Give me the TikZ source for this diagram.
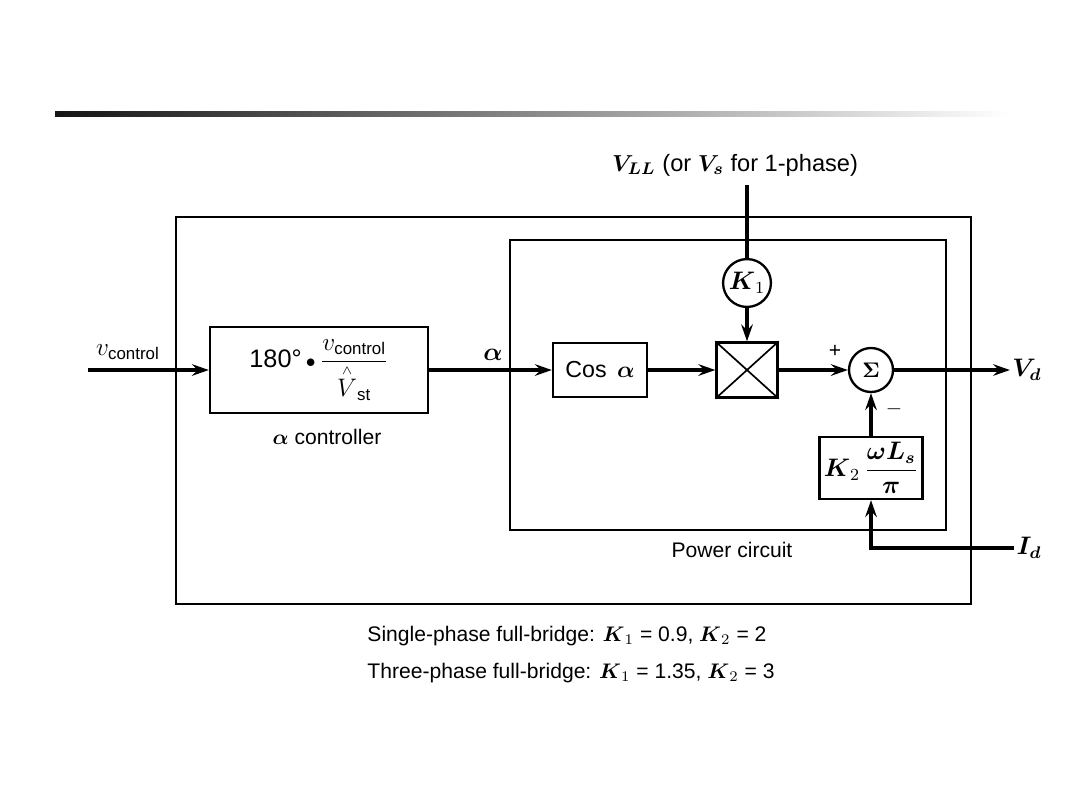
\documentclass[tikz,border=0pt]{standalone}
\usepackage{amsmath}
\usepackage{fontspec}
\setmainfont{Liberation Sans}
\usetikzlibrary{arrows.meta}
\tikzset{
  arr/.style={-{Stealth[length=8pt, width=5.5pt, inset=2.8pt]}, line width=1.6pt},
  sig/.style={line width=1.6pt},
  blk/.style={draw, line width=1.1pt, inner sep=2pt, align=center},
  rnd/.style={draw, circle, line width=1.1pt, inner sep=1pt, minimum size=0.733cm},
  frame/.style={draw, line width=1pt},
}

\begin{document}
\begin{tikzpicture}[x=0.016667cm, y=-0.016667cm]
\useasboundingbox (0,0) rectangle (1080,810);
\shade[left color=black!92, right color=white] (55,111) rectangle (1010,116);

% frames
\draw[frame] (176,217) rectangle (971,604);
\draw[frame] (510,240) rectangle (946,530);

% blocks
\node[blk, minimum width=3.633cm, minimum height=1.433cm, font=\large] (ctrl) at (319,370)
  {180°\,{\small$\bullet$}\,$\dfrac{v_{\text{control}}}{\overset{\scriptscriptstyle\wedge}{V}_{\text{st}}}$};
\node[blk, minimum width=1.567cm, minimum height=0.9cm, font=\fontsize{11}{13}\selectfont] (cosb) at (600,370) {Cos\, $\boldsymbol{\alpha}$};
\node[blk, minimum width=1.017cm, minimum height=0.917cm] (mult) at (747,370) {};
\node[rnd, font=\large] (kone)  at (747,283) {$\boldsymbol{K}_1$};
\node[rnd] (sigma) at (871,370) {$\boldsymbol{\Sigma}$};
\node[blk, minimum width=1.7cm, minimum height=1.033cm, font=\large] (ktwo) at (871,468)
  {$\boldsymbol{K}_2\,\dfrac{\boldsymbol{\omega L_s}}{\boldsymbol{\pi}}$};
\draw[line width=0.8pt] (mult.north west) -- (mult.south east);
\draw[line width=0.8pt] (mult.south west) -- (mult.north east);

% labels
\node[font=\large] (vcl)  at (128,352) {$v_{\text{control}}$};
\node[font=\large] (alab) at (493,355) {$\boldsymbol{\alpha}$};
\node[font=\fontsize{11.2}{13}\selectfont] (vll) at (735,165) {$\boldsymbol{V_{LL}}$ (or $\boldsymbol{V_s}$ for 1-phase)};
\node (plus) at (835,351) {+};
\node (minus) at (894,409) {$-$};
\node[inner sep=1pt, font=\large] (vd)  at (1027,370) {$\boldsymbol{V_d}$};
\node[inner sep=1pt, font=\large] (idl) at (1029,548) {$\boldsymbol{I_d}$};
\node (actl) at (327,437) {$\boldsymbol{\alpha}$ controller};
\node (pwr)  at (732,550) {Power circuit};
\node[anchor=west] (note1) at (360,636) {Single-phase full-bridge: $\boldsymbol{K}_1$ = 0.9, $\boldsymbol{K}_2$ = 2};
\node[anchor=west] (note2) at (360,673) {Three-phase full-bridge: $\boldsymbol{K}_1$ = 1.35, $\boldsymbol{K}_2$ = 3};

% signals
\coordinate (vin)  at (88,370);
\coordinate (vtop) at (747,185);
\draw[arr] (vin) -- (ctrl);
\draw[arr] (ctrl) -- (cosb);
\draw[arr] (cosb) -- (mult);
\draw[sig] (vtop) -- (kone);
\draw[arr] (kone) -- (mult);
\draw[arr] (mult) -- (sigma);
\draw[arr] (sigma) -- (vd);
\draw[arr] (ktwo) -- (sigma);
\draw[arr] (idl.west) -| (ktwo.south);
\end{tikzpicture}
\end{document}
